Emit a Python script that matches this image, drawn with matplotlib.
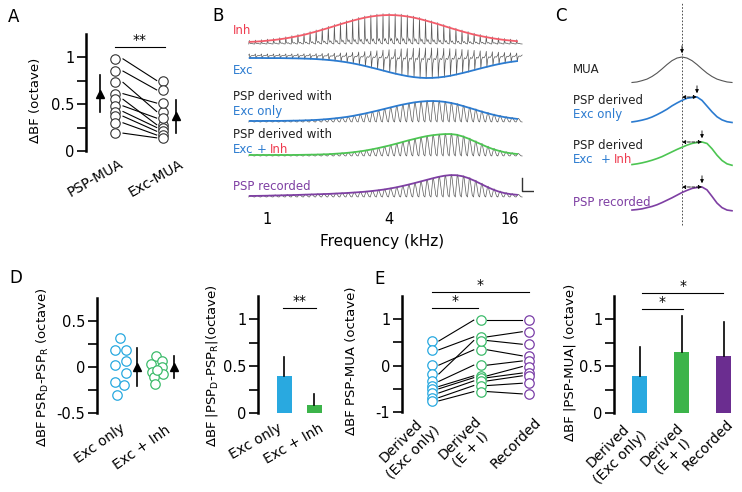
import numpy as np
import matplotlib
matplotlib.use('Agg')
import matplotlib.pyplot as plt

plt.rcParams['font.family'] = 'DejaVu Sans'
plt.rcParams['axes.unicode_minus'] = False

W, H = 742, 492

# ---------------- data ----------------
# A: delta BF per cell
a_labels = ['PSP-MUA', 'Exc-MUA']
a_psp_mua = [0.98, 0.85, 0.73, 0.61, 0.55, 0.48, 0.42, 0.37, 0.30, 0.19]
a_exc_mua = [0.75, 0.65, 0.42, 0.51, 0.28, 0.35, 0.25, 0.21, 0.17, 0.14]
a_mean = [0.61, 0.37]
a_sd = [0.20, 0.175]

# B: tone-evoked responses, peak height (px) at each tone (octaves re 1 kHz)
b_oct = np.round(np.arange(-0.3, 4.15, 0.1), 2)
b_inh = [1.1, 1.4, 1.8, 2.4, 3.0, 3.8, 4.7, 5.8, 7.0, 8.3, 9.9, 11.5, 13.3, 15.1, 17.0,
         18.9, 20.7, 22.4, 24.0, 25.4, 26.5, 27.3, 27.8, 28.0, 27.8, 27.3, 26.5, 25.4,
         24.0, 22.4, 20.7, 18.9, 17.0, 15.1, 13.3, 11.5, 9.9, 8.3, 7.0, 5.8, 4.7, 3.8,
         3.0, 2.4, 1.8]
b_exc = [0.0, 0.0, 0.0, 0.1, 0.1, 0.1, 0.2, 0.3, 0.4, 0.6, 0.8, 1.1, 1.5, 2.0, 2.6,
         3.4, 4.3, 5.4, 6.6, 8.0, 9.5, 11.0, 12.6, 14.2, 15.7, 17.0, 18.2, 19.1, 19.7,
         20.0, 19.9, 19.5, 18.8, 17.8, 16.5, 15.1, 13.6, 12.0, 10.4, 8.9, 7.4, 6.1,
         4.9, 3.9, 3.1]
b_psp_exc = [0.0, 0.0, 0.0, 0.1, 0.1, 0.1, 0.2, 0.3, 0.4, 0.6, 0.8, 1.1, 1.5, 2.0, 2.6,
             3.3, 4.1, 5.1, 6.3, 7.5, 8.9, 10.3, 11.8, 13.3, 14.8, 16.2, 17.4, 18.5,
             19.3, 19.8, 20.0, 19.8, 19.2, 18.2, 16.9, 15.2, 13.4, 11.6, 9.7, 8.0, 6.4,
             5.0, 3.8, 2.9, 2.1]
b_psp_ei = [0.0, 0.0, 0.0, 0.0, 0.0, 0.0, 0.0, 0.0, 0.1, 0.2, 0.3, 0.4, 0.6, 0.8, 1.2,
            1.6, 2.1, 2.7, 3.5, 4.4, 5.5, 6.7, 8.1, 9.5, 11.1, 12.7, 14.4, 15.9, 17.4,
            18.7, 19.7, 20.4, 20.9, 21.0, 20.3, 18.7, 16.4, 13.7, 11.0, 8.3, 6.0, 4.2,
            2.7, 1.7, 1.0]
b_psp_rec = [0.0, 0.1, 0.2, 0.3, 0.5, 0.6, 0.8, 0.9, 1.1, 1.3, 1.5, 1.7, 1.9, 2.1, 2.4,
             2.7, 3.0, 3.4, 3.8, 4.3, 4.9, 5.6, 6.4, 7.4, 8.5, 9.8, 11.2, 12.7, 14.3,
             15.9, 17.5, 19.0, 20.2, 20.9, 20.8, 19.8, 17.9, 15.3, 12.3, 9.3, 6.6, 4.4,
             2.8, 1.8, 1.2]
b_ticks = [1, 4, 16]

# C: normalised tuning curves
c_u = np.round(np.linspace(-2, 2, 21), 2)
c_mua = [0.02, 0.04, 0.09, 0.15, 0.25, 0.38, 0.54, 0.71, 0.86, 0.96, 1.00, 0.96, 0.86,
         0.71, 0.54, 0.38, 0.25, 0.15, 0.09, 0.04, 0.02]
c_exc = [0.04, 0.07, 0.11, 0.16, 0.23, 0.32, 0.42, 0.53, 0.66, 0.77, 0.87, 0.95, 0.98,
         1.00, 0.87, 0.65, 0.43, 0.24, 0.12, 0.05, 0.02]
c_ei = [0.06, 0.09, 0.13, 0.18, 0.24, 0.31, 0.39, 0.49, 0.59, 0.69, 0.78, 0.87, 0.94,
        0.98, 1.00, 0.94, 0.72, 0.45, 0.23, 0.09, 0.03]
c_rec = [0.04, 0.06, 0.09, 0.14, 0.19, 0.26, 0.35, 0.45, 0.55, 0.66, 0.77, 0.86, 0.94,
         0.98, 1.00, 0.88, 0.61, 0.33, 0.14, 0.04, 0.01]

# D: derived minus recorded
d_labels = ['Exc only', 'Exc + Inh']
d_exc = [0.31, 0.19, 0.19, 0.065, 0.02, -0.07, -0.16, -0.20, -0.30]
d_exc_jit = [0.0, -0.15, 0.15, 0.15, -0.15, 0.15, -0.15, 0.1, -0.1]
d_ei = [0.12, 0.03, 0.065, -0.05, 0.0, -0.08, -0.11, -0.19, -0.03]
d_ei_jit = [0.0, -0.15, 0.15, -0.12, 0.15, 0.18, -0.07, -0.04, 0.02]
d_mean = [0.0, 0.0]
d_sd = [0.21, 0.12]
d2_mean = [0.39, 0.09]
d2_sd = [0.21, 0.11]

# E: PSP - MUA
e_labels = ['Derived\n(Exc only)', 'Derived\n(E + I)', 'Recorded']
e_exc = [0.53, 0.34, 0.01, -0.18, -0.34, -0.45, -0.50, -0.59, -0.69, -0.76]
e_ei = [0.98, 0.62, 0.34, 0.54, 0.01, -0.22, -0.26, -0.33, -0.43, -0.56]
e_rec = [0.98, 0.73, 0.21, 0.46, 0.10, -0.02, -0.16, -0.22, -0.38, -0.61]
e2_mean = [0.40, 0.65, 0.61]
e2_sd = [0.31, 0.39, 0.36]

# ---------------- style ----------------
LBLUE = '#29a9e0'
DGREEN = '#3dbb6b'
BGREEN = '#3cb44a'
PURPLE = '#6b2d90'
RED = '#ee3b4f'
IRED = '#f25c6a'
BLUE = '#2b7bd0'
LGREEN = '#4cc552'
LPURPLE = '#7e3fa3'
TRACE = '#5a5a5a'

fig = plt.figure(figsize=(W / 100, H / 100), dpi=100)


def add_ax(x0, y0, x1, y1):
    return fig.add_axes([x0 / W, 1 - y1 / H, (x1 - x0) / W, (y1 - y0) / H])


def ftext(x, y, s, **kw):
    fig.text(x / W, 1 - y / H, s, **kw)


def style_ax(ax, major, minor, ylim, ylabel, ylab_xy):
    for s in ['top', 'right', 'bottom']:
        ax.spines[s].set_visible(False)
    ax.spines['left'].set_linewidth(1.8)
    ax.set_ylim(*ylim)
    ax.set_yticks(major)
    ax.set_yticks(minor, minor=True)
    ax.set_yticklabels([('%g' % v) for v in major])
    ax.tick_params(axis='y', which='both', direction='out', length=6.5, width=1.2,
                   labelsize=10.5, pad=2)
    ax.set_xticks([])
    ax.patch.set_alpha(0)
    ax.set_ylabel(ylabel, fontsize=9.5, va='center')
    ax.yaxis.set_label_coords(ylab_xy[0] / W, 1 - ylab_xy[1] / H, transform=fig.transFigure)


def sig(ax, x0, x1, y, txt):
    ax.plot([x0, x1], [y, y], color='k', lw=0.8, clip_on=False)
    ax.text((x0 + x1) / 2, y, txt, ha='center', va='bottom', fontsize=10, clip_on=False)


def mean_marker(ax, x, m, sd):
    ax.plot([x, x], [m - sd, m + sd], color='k', lw=1.2, clip_on=False)
    ax.plot(x, m, marker='^', color='k', ms=6, clip_on=False)


def rot_label(x, y, s, rot):
    ftext(x, y, s, rotation=rot, ha='right', va='top', rotation_mode='anchor',
          fontsize=10, multialignment='center')


# ---------------- A ----------------
ax = add_ax(86, 33.5, 185, 151)
ax.set_xlim(-0.6, 1.46)
style_ax(ax, [0, 0.5, 1], [0.25, 0.75], (0, 1.25), '\u0394BF (octave)', (35, 100))
for l, r in zip(a_psp_mua, a_exc_mua):
    ax.plot([0.17, 0.87], [l, r], color='k', lw=0.8)
ax.plot(np.zeros(len(a_psp_mua)), a_psp_mua, 'o', mfc='white', mec='#333333', ms=6.8, mew=0.8)
ax.plot(np.ones(len(a_exc_mua)), a_exc_mua, 'o', mfc='white', mec='#333333', ms=6.8, mew=0.8)
mean_marker(ax, -0.31, a_mean[0], a_sd[0])
mean_marker(ax, 1.27, a_mean[1], a_sd[1])
sig(ax, 0, 1.04, 1.106, '**')
rot_label(119, 157, a_labels[0], 30)
rot_label(179, 157, a_labels[1], 30)

# ---------------- B ----------------
axb = add_ax(230.5, 0, 534.3, 205)
axb.set_xlim(-0.6, 4.4)
axb.set_ylim(205, 0)
for s in axb.spines.values():
    s.set_visible(False)
axb.set_yticks([])
axb.set_xticks(np.log2(b_ticks))
axb.set_xticklabels([str(t) for t in b_ticks], fontsize=10.5)
axb.tick_params(axis='x', length=0, pad=5)
axb.set_xlabel('Frequency (kHz)', fontsize=11, labelpad=5)
axb.patch.set_alpha(0)

step = b_oct[1] - b_oct[0]
shapes = {
    'inh': ([0, 0.1, 0.18, 0.35, 0.5, 0.7, 1.0], [0, 1.0, 0.25, 0.1, 0.18, 0.04, 0]),
    'exc': ([0, 0.1, 0.2, 0.32, 0.5, 0.75, 1.0], [0, -0.3, 1.0, 0.35, 0.15, 0.2, 0]),
    'psp': ([0, 0.3, 0.4, 0.8, 1.0], [0, 0.95, 1.0, 0.08, 0]),
}


def draw_row(amps, env_base, tr_base, sign, shape, pad, color):
    st, sv = shapes[shape]
    xs, ys = [], []
    for o, a in zip(b_oct, amps):
        h = a + pad
        xs.extend(o + step * np.array(st))
        ys.extend(tr_base - sign * h * np.array(sv))
    axb.plot(xs, ys, color=TRACE, lw=0.5)
    axb.plot(b_oct + step * 0.15, env_base - sign * np.array(amps), color=color, lw=1.3)


draw_row(b_inh, 43, 44, 1, 'inh', 2.5, IRED)
draw_row(b_exc, 58, 55, -1, 'exc', 3.5, BLUE)
draw_row(b_psp_exc, 121, 122, 1, 'psp', 1.5, BLUE)
draw_row(b_psp_ei, 155, 156, 1, 'psp', 1.5, LGREEN)
draw_row(b_psp_rec, 196, 197, 1, 'psp', 1.5, LPURPLE)
# scale bar
axb.plot([4.2, 4.2, 4.38], [178, 191, 191], color='#333333', lw=1)

bt = dict(fontsize=8.5, ha='left', va='baseline')
ftext(233, 34, 'Inh', color=RED, **bt)
ftext(233, 74, 'Exc', color=BLUE, **bt)
ftext(233, 100, 'PSP derived with', color='#222222', **bt)
ftext(233, 115, 'Exc only', color=BLUE, **bt)
ftext(233, 138, 'PSP derived with', color='#222222', **bt)
ftext(233, 153, 'Exc', color=BLUE, **bt)
ftext(257, 153, '+', color=BLUE, **bt)
ftext(270, 153, 'Inh', color=RED, **bt)
ftext(233, 190, 'PSP recorded', color=LPURPLE, **bt)

# ---------------- C ----------------
axc = add_ax(540, 0, 742, 230)
axc.set_xlim((540 - 682) / 25, (742 - 682) / 25)
axc.set_ylim(230, 0)
axc.axis('off')
c_rows = [(c_mua, 83, 26, '#555555', 0.8), (c_exc, 123, 26, BLUE, 1.2),
          (c_ei, 166, 24, LGREEN, 1.2), (c_rec, 211, 24, LPURPLE, 1.2)]
u0 = c_u[int(np.argmax(c_mua))]
axc.axvline(u0, ymin=0.02, ymax=0.985, color='#333333', lw=0.6, ls=(0, (2, 2)))
for i, (vals, base, amp, col, lw) in enumerate(c_rows):
    y = base - amp * np.array(vals)
    axc.plot(c_u, y, color=col, lw=lw)
    k = int(np.argmax(vals))
    pu, py = c_u[k], y[k]
    axc.annotate('', xy=(pu, py - 1), xytext=(pu, py - 14),
                 arrowprops=dict(arrowstyle='-|>', color='k', lw=0.6, mutation_scale=5))
    if i > 0:
        axc.annotate('', xy=(pu, py), xytext=(u0, py),
                     arrowprops=dict(arrowstyle='<|-|>', color='k', lw=0.6, ls='--',
                                     mutation_scale=5, shrinkA=0, shrinkB=0))

ct = dict(fontsize=8.5, ha='left', va='baseline')
ftext(573, 73, 'MUA', color='#222222', **ct)
ftext(573, 104, 'PSP derived', color='#222222', **ct)
ftext(573, 118, 'Exc only', color=BLUE, **ct)
ftext(573, 149, 'PSP derived', color='#222222', **ct)
ftext(573, 163, 'Exc', color=BLUE, **ct)
ftext(601, 163, '+', color=BLUE, **ct)
ftext(614, 163, 'Inh', color=RED, **ct)
ftext(573, 206, 'PSP recorded', color=LPURPLE, **ct)

# ---------------- D ----------------
ax = add_ax(97, 298, 185, 413)
ax.set_xlim(-0.65, 1.8)
style_ax(ax, [-0.5, 0, 0.5], [-0.25, 0.25], (-0.5, 0.75),
         '\u0394BF PSR$_\\mathregular{D}$-PSP$_\\mathregular{R}$ (octave)', (43, 367))
ax.plot(np.array(d_exc_jit), d_exc, 'o', mfc='white', mec=LBLUE, ms=6.8, mew=0.9)
ax.plot(1 + np.array(d_ei_jit), d_ei, 'o', mfc='white', mec=DGREEN, ms=6.8, mew=0.9)
mean_marker(ax, 0.46, d_mean[0], d_sd[0])
mean_marker(ax, 1.49, d_mean[1], d_sd[1])
rot_label(120, 421, d_labels[0], 35)
rot_label(165, 423, d_labels[1], 35)

# D2 bars
ax = add_ax(258, 296, 330, 413)
ax.set_xlim(-0.88, 1.52)
style_ax(ax, [0, 0.5, 1], [0.25, 0.75], (0, 1.25),
         '\u0394BF |PSP$_\\mathregular{D}$-PSP$_\\mathregular{R}$|(octave)', (212, 366))
ax.bar([0, 1], d2_mean, width=0.5, color=[LBLUE, BGREEN])
for x, m, s in zip([0, 1], d2_mean, d2_sd):
    ax.plot([x, x], [m, m + s], color='k', lw=1.2)
sig(ax, -0.05, 1.05, 1.125, '**')
rot_label(277, 421, d_labels[0], 30)
rot_label(319, 421, d_labels[1], 30)

# ---------------- E ----------------
ax = add_ax(402, 296, 545, 412)
ax.set_xlim(-0.62, 2.33)
style_ax(ax, [-1, 0, 1], [-0.5, 0.5], (-1, 1.5), '\u0394BF PSP-MUA (octave)', (351, 361))
for a, b in zip(e_exc, e_ei):
    ax.plot([0.14, 0.86], [a, b], color='k', lw=0.8)
for a, b in zip(e_ei, e_rec):
    ax.plot([1.14, 1.86], [a, b], color='k', lw=0.8)
for i, (vals, col) in enumerate([(e_exc, LBLUE), (e_ei, DGREEN), (e_rec, '#7b3fa8')]):
    ax.plot(np.full(len(vals), i), vals, 'o', mfc='white', mec=col, ms=6.8, mew=0.9)
sig(ax, 0, 0.95, 1.25, '*')
sig(ax, 0, 2.0, 1.59, '*')
rot_label(421, 412, e_labels[0], 45)
rot_label(474, 414, e_labels[1], 45)
rot_label(534, 415, e_labels[2], 45)

# E2 bars
ax = add_ax(614, 296, 742, 413)
ax.set_xlim(-0.62, 2.44)
style_ax(ax, [0, 0.5, 1], [0.25, 0.75], (0, 1.25), '\u0394BF |PSP-MUA| (octave)', (570, 362))
ax.bar([0, 1, 2], e2_mean, width=0.36, color=[LBLUE, BGREEN, PURPLE])
for x, m, s in zip([0, 1, 2], e2_mean, e2_sd):
    ax.plot([x, x], [m, m + s], color='k', lw=1.2)
sig(ax, 0.05, 1.03, 1.11, '*')
sig(ax, 0.05, 1.99, 1.28, '*')
rot_label(628, 417, e_labels[0], 45)
rot_label(676, 421, e_labels[1], 45)
rot_label(726, 417, e_labels[2], 45)

# panel letters
for s, x, y in [('A', 8, 22), ('B', 212, 21), ('C', 555, 21), ('D', 9, 283), ('E', 374, 284)]:
    ftext(x, y, s, fontsize=12, ha='left', va='baseline')

fig.savefig('out.png', dpi=100)
